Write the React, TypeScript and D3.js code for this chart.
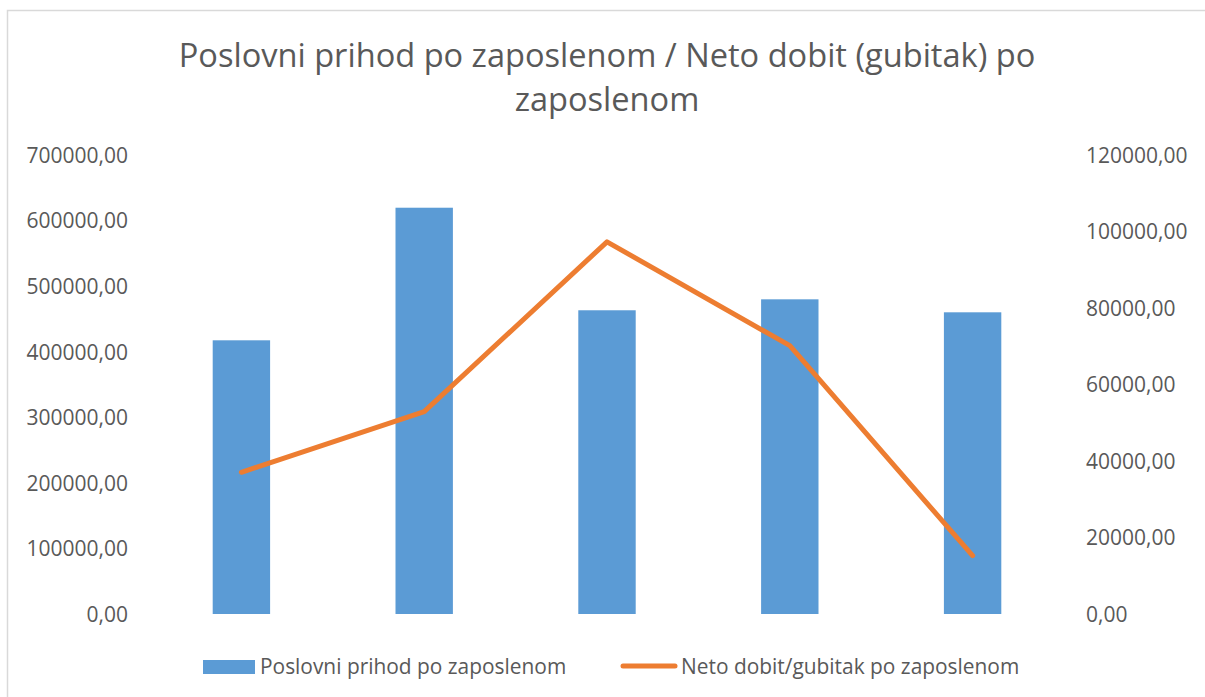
import React, { useEffect, useRef } from "react";
import * as d3 from "d3";

// kategorije (bez naziva na osi)
const categories = ["1", "2", "3", "4", "5"];
// Poslovni prihod po zaposlenom (lijeva os)
const prihod = [417400, 619600, 463200, 479900, 460100];
// Neto dobit/gubitak po zaposlenom (desna os)
const dobit = [37050, 52900, 97300, 70150, 15250];
const leftTicks = [0, 100000, 200000, 300000, 400000, 500000, 600000, 700000];
const rightTicks = [0, 20000, 40000, 60000, 80000, 100000, 120000];

const titleLines = ["Poslovni prihod po zaposlenom / Neto dobit (gubitak) po", "zaposlenom"];
const legendNames = ["Poslovni prihod po zaposlenom", "Neto dobit/gubitak po zaposlenom"];

const App = () => {
  const svgRef = useRef<SVGSVGElement>(null);

  useEffect(() => {
    const w = 1205;
    const h = 697;
    const font = "'Open Sans', sans-serif";
    const textColor = "#595959";
    const svg = d3.select(svgRef.current).attr("width", w).attr("height", h);
    svg.selectAll("*").remove();

    svg
      .append("rect")
      .attr("x", 7.5)
      .attr("y", 10.5)
      .attr("width", 1300)
      .attr("height", 800)
      .attr("fill", "#fff")
      .attr("stroke", "#d9d9d9")
      .attr("stroke-width", 1.5);

    // title
    svg
      .selectAll(".title")
      .data(titleLines)
      .join("text")
      .attr("class", "title")
      .attr("x", 607)
      .attr("y", (d, i) => 67 + i * 44)
      .attr("text-anchor", "middle")
      .style("font-family", font)
      .style("font-size", "32.6px")
      .style("fill", textColor)
      .text((d) => d);

    const xScale = d3
      .scaleBand()
      .domain(categories)
      .range([150, 1064])
      .paddingInner(0.686)
      .paddingOuter(0.343);
    const yLeft = d3.scaleLinear().domain([0, 700000]).range([614, 155]);
    const yRight = d3.scaleLinear().domain([0, 120000]).range([614, 155]);

    const fmt = (v: number) => d3.format(".2f")(v).replace(".", ",");

    const leftAxis = d3
      .axisLeft(yLeft)
      .tickValues(leftTicks)
      .tickFormat((d) => fmt(d as number))
      .tickSize(0)
      .tickPadding(0);
    const gl = svg.append("g").attr("transform", "translate(128,0)").call(leftAxis);
    gl.select(".domain").remove();
    gl.selectAll("text")
      .attr("dy", "0.35em")
      .style("font-family", font)
      .style("font-size", "21px")
      .style("fill", textColor);

    const rightAxis = d3
      .axisRight(yRight)
      .tickValues(rightTicks)
      .tickFormat((d) => fmt(d as number))
      .tickSize(0)
      .tickPadding(0);
    const gr = svg.append("g").attr("transform", "translate(1086,0)").call(rightAxis);
    gr.select(".domain").remove();
    gr.selectAll("text")
      .attr("dy", "0.35em")
      .style("font-family", font)
      .style("font-size", "21px")
      .style("fill", textColor);

    // bars
    svg
      .selectAll(".bar")
      .data(prihod)
      .join("rect")
      .attr("class", "bar")
      .attr("x", (d, i) => xScale(categories[i]) as number)
      .attr("width", xScale.bandwidth())
      .attr("y", (d) => yLeft(d))
      .attr("height", (d) => yLeft(0) - yLeft(d))
      .attr("fill", "#5b9bd5");

    // line
    const line = d3
      .line<number>()
      .x((d, i) => (xScale(categories[i]) as number) + xScale.bandwidth() / 2)
      .y((d) => yRight(d));

    svg
      .append("path")
      .datum(dobit)
      .attr("d", line)
      .attr("fill", "none")
      .attr("stroke", "#ed7d31")
      .attr("stroke-width", 5)
      .attr("stroke-linejoin", "round")
      .attr("stroke-linecap", "round");

    // legend
    svg
      .append("rect")
      .attr("x", 203)
      .attr("y", 660)
      .attr("width", 52)
      .attr("height", 14)
      .attr("fill", "#5b9bd5");
    svg
      .append("line")
      .attr("x1", 623)
      .attr("x2", 675)
      .attr("y1", 666)
      .attr("y2", 666)
      .attr("stroke", "#ed7d31")
      .attr("stroke-width", 5)
      .attr("stroke-linecap", "round");

    svg
      .selectAll(".legend")
      .data(legendNames)
      .join("text")
      .attr("class", "legend")
      .attr("x", (d, i) => (i === 0 ? 260 : 681))
      .attr("y", 667)
      .attr("dy", "0.35em")
      .style("font-family", font)
      .style("font-size", "20.9px")
      .style("fill", textColor)
      .text((d) => d);
  }, []);

  return (
    <div>
      <svg ref={svgRef} style={{ position: "absolute", left: 0, top: 0, display: "block" }}></svg>
    </div>
  );
};

export default App;
